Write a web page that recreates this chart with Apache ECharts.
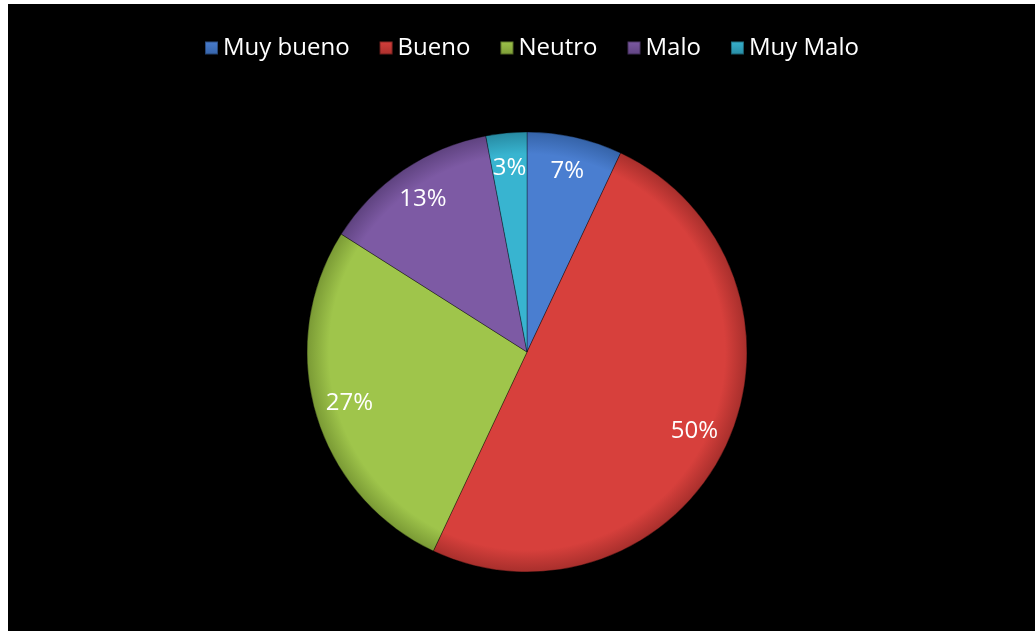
<!DOCTYPE html>
<html>
<head>
<meta charset="utf-8">
<script src="https://cdn.jsdelivr.net/npm/echarts@6/dist/echarts.min.js"></script>
<style>
  html, body { margin: 0; padding: 0; background: #ffffff; width: 1035px; height: 631px; overflow: hidden; }
  #chart { position: absolute; left: 8px; top: 4px; width: 1027px; height: 627px; background: #000000; }
</style>
</head>
<body>
<div id="chart"></div>
<script>
// Survey ratings, share of answers (%)
const categories = ['Muy bueno', 'Bueno', 'Neutro', 'Malo', 'Muy Malo'];
const values = [7, 50, 27, 13, 3];
const baseColors = ['#4a7ed0', '#d7403c', '#9fc54b', '#7d5aa4', '#38b4d0'];
const rimColors = ['#3563a8', '#a82f2c', '#7a9a35', '#5f4380', '#278aa2'];

const cx = 519, cy = 348, R = 220;

function sliceFill(i) {
  return new echarts.graphic.RadialGradient(cx, cy, R, [
    { offset: 0, color: baseColors[i] },
    { offset: 0.9, color: baseColors[i] },
    { offset: 1, color: rimColors[i] }
  ], true);
}

function legendFill(i) {
  return new echarts.graphic.LinearGradient(0, 0, 0, 1, [
    { offset: 0, color: baseColors[i] },
    { offset: 1, color: rimColors[i] }
  ]);
}

const chart = echarts.init(document.getElementById('chart'));
const font = '"Open Sans", sans-serif';

chart.setOption({
  backgroundColor: '#000000',
  animation: false,
  legend: {
    top: 27,
    left: 191,
    itemWidth: 13,
    itemHeight: 13,
    itemGap: 29,
    icon: 'rect',
    data: categories.map((name, i) => ({ name, itemStyle: { color: legendFill(i) } })),
    textStyle: { color: '#ffffff', fontFamily: font, fontSize: 24 }
  },
  series: [
    {
      type: 'pie',
      center: [cx, cy],
      radius: [0, R],
      startAngle: 90,
      clockwise: true,
      label: { show: false },
      labelLine: { show: false },
      emphasis: { disabled: true },
      itemStyle: { borderColor: 'rgba(0,0,0,0.35)', borderWidth: 1 },
      data: categories.map((name, i) => ({ name, value: values[i], itemStyle: { color: sliceFill(i) } }))
    },
    {
      // transparent ring that carries the percentage labels near the rim
      type: 'pie',
      center: [cx, cy],
      radius: [144, R],
      startAngle: 90,
      clockwise: true,
      silent: true,
      legendHoverLink: false,
      itemStyle: { color: 'rgba(0,0,0,0)' },
      label: {
        show: true,
        position: 'inside',
        formatter: '{d}%',
        color: '#ffffff',
        fontFamily: font,
        fontSize: 24
      },
      labelLine: { show: false },
      emphasis: { disabled: true },
      data: categories.map((name, i) => ({ name, value: values[i] }))
    }
  ]
});
</script>
</body>
</html>
